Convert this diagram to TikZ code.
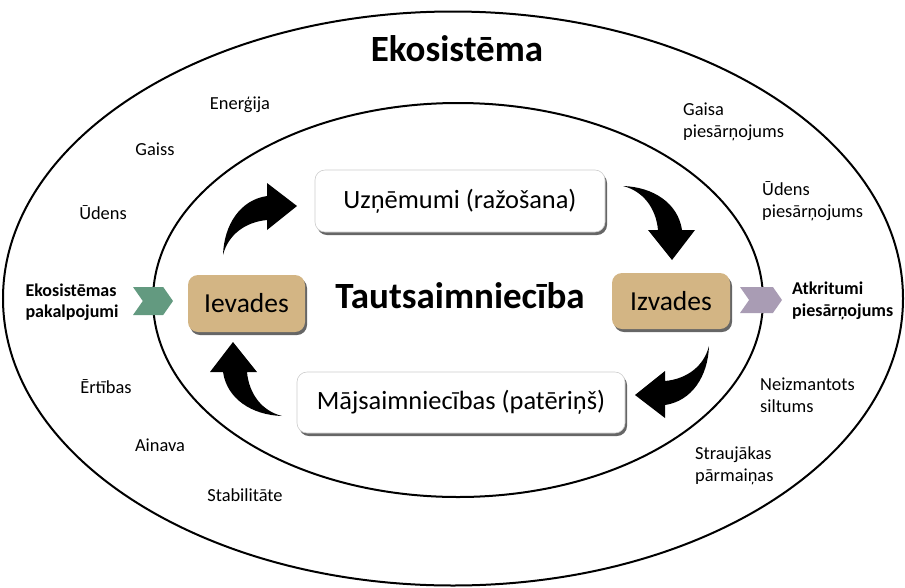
\documentclass[tikz,border=0pt]{standalone}
\usepackage{fontspec}
\setmainfont{Carlito}
\usetikzlibrary{shadows,shapes.symbols}
\definecolor{tanbox}{HTML}{D3B584}
\definecolor{greenchev}{HTML}{639A80}
\definecolor{purplechev}{HTML}{A99CB4}
\tikzset{
  ring/.style={draw=black,line width=2pt},
  whitebox/.style={draw=black!20,line width=0.6pt,fill=white,rounded corners=10pt,
    drop shadow={shadow xshift=2pt,shadow yshift=-3pt,fill=black,opacity=0.6},
    inner sep=0pt,font=\fontsize{26.4}{30}\selectfont},
  tanbox/.style={fill=tanbox,rounded corners=10pt,
    drop shadow={shadow xshift=2pt,shadow yshift=-3pt,fill=black,opacity=0.6},
    inner sep=0pt,font=\fontsize{27.5}{31}\selectfont},
  chev/.style={signal,signal from=west,signal to=east,signal pointer angle=110,
    inner sep=0pt,draw=none},
  small/.style={font=\fontsize{18.4}{22}\selectfont,inner sep=0pt},
  smallbold/.style={font=\fontsize{18}{21.5}\selectfont\bfseries,inner sep=0pt},
  big/.style={font=\fontsize{37}{42}\selectfont\bfseries,inner sep=0pt},
  curvarrow/.pic={\fill[black] (-74,49) .. controls (-73,19) and (-57,-6) .. (-30,-10)
     -- (-30,-23) -- (0,0) -- (-30,24) -- (-30,14)
     .. controls (-52,16) and (-69,29) .. (-74,49) -- cycle;}
}
\begin{document}
\begin{tikzpicture}[x=1pt,y=-1pt]
\useasboundingbox (0,0) rectangle (905,587);
% ellipses
\draw[ring] (453,298.5) ellipse [x radius=450,y radius=287];
\draw[ring] (458,300) ellipse [x radius=305,y radius=197];
% titles
\node[big] (eko) at (457,49) {Ekosistēma};
\node[big] (taut) at (460,296) {Tautsaimniecība};
% boxes
\node[whitebox,minimum width=290pt,minimum height=62pt] (uzn) at (460,201) {Uzņēmumi (ražošana)};
\node[whitebox,minimum width=328pt,minimum height=61pt] (maj) at (461,402.5) {Mājsaimniecības (patēriņš)};
\node[tanbox,minimum width=117pt,minimum height=57pt] (iev) at (246.5,303.5) {Ievades};
\node[tanbox,minimum width=118pt,minimum height=56pt] (izv) at (671,301) {Izvades};
% chevrons
\node[chev,fill=greenchev,minimum width=40pt,minimum height=28pt] (chl) at (153,301) {};
\node[chev,fill=purplechev,minimum width=42pt,minimum height=26pt] (chr) at (761,300) {};
% curved arrows
\pic at (297,206) {curvarrow};
\pic[rotate=-90] at (672,260) {curvarrow};
\pic[rotate=180] at (635,395) {curvarrow};
\pic[rotate=90] at (233,342) {curvarrow};
% left labels
\node[small] (ener) at (240,105) {Enerģija};
\node[small] (gaiss) at (155,149) {Gaiss};
\node[small] (uden) at (103,213) {Ūdens};
\node[smallbold,align=left] (ekopak) at (72,302) {Ekosistēmas\\pakalpojumi};
\node[small] (ert) at (106,387) {Ērtības};
\node[small] (ain) at (160,445) {Ainava};
\node[small] (stab) at (245,495) {Stabilitāte};
% right labels
\node[small,align=left,anchor=west] (gp) at (683,122) {Gaisa\\piesārņojums};
\node[small,align=left,anchor=west] (up) at (762,201) {Ūdens\\piesārņojums};
\node[smallbold,align=left,anchor=west] (atk) at (792,301) {Atkritumi\\piesārņojums};
\node[small,align=left,anchor=west] (neiz) at (760,395) {Neizmantots\\siltums};
\node[small,align=left,anchor=west] (strauj) at (695,466) {Straujākas\\pārmaiņas};
\end{tikzpicture}
\end{document}
